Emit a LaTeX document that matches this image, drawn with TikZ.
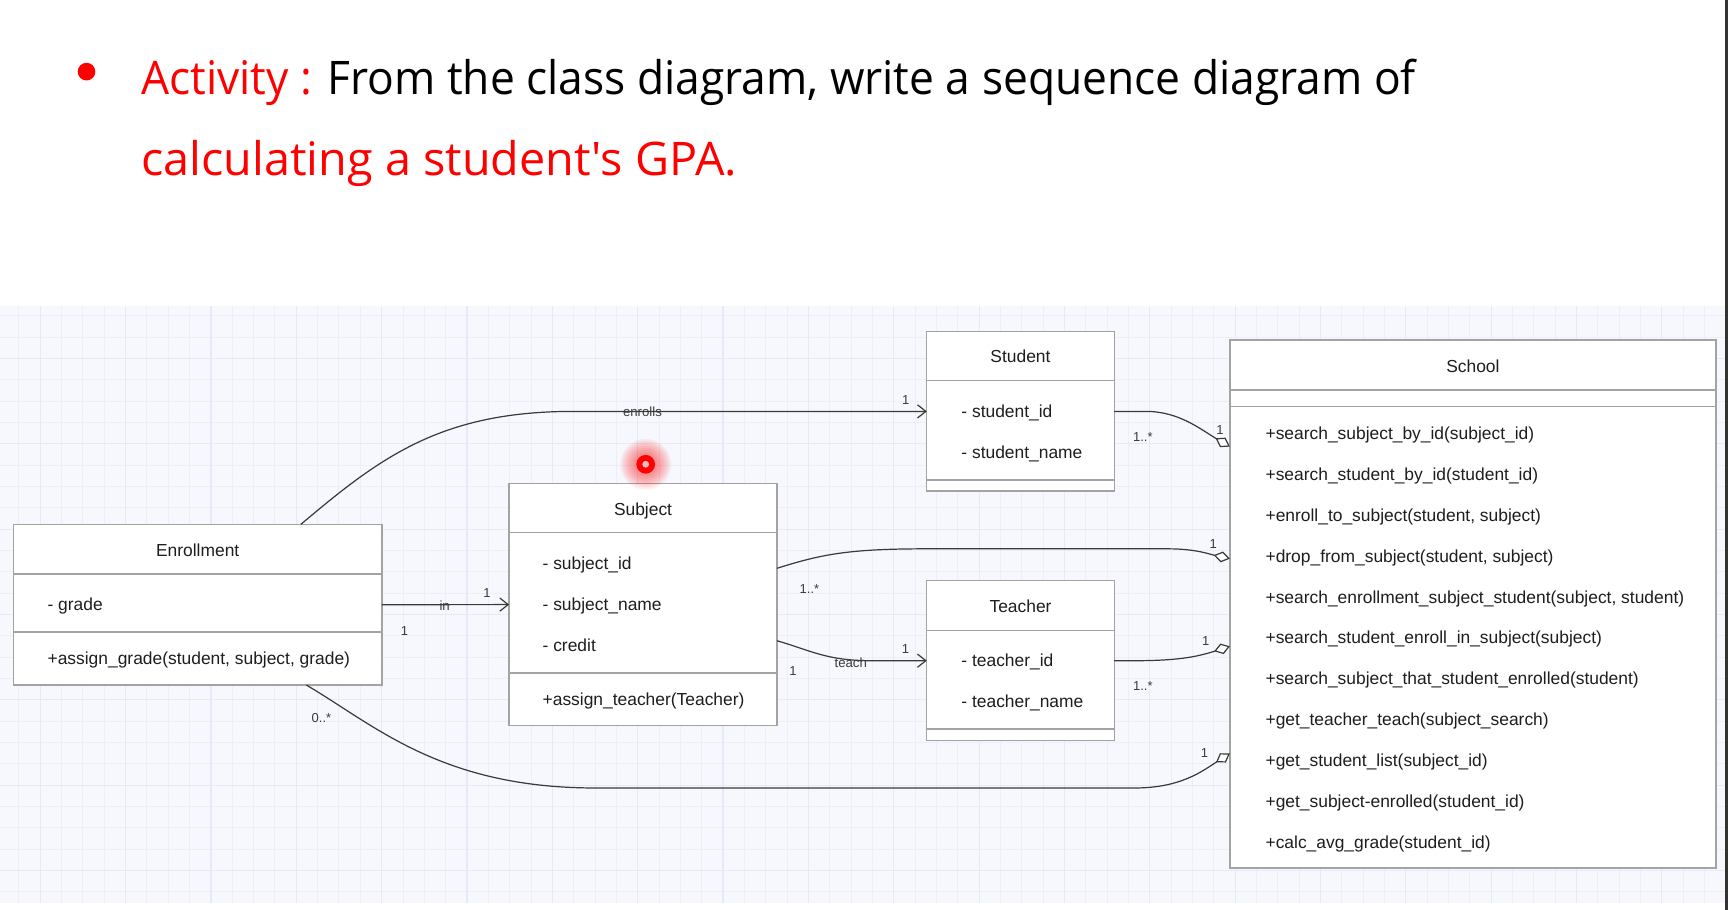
\documentclass[tikz,border=0pt]{standalone}
\usepackage{fontspec}
\setmainfont{Liberation Sans}
\newfontfamily\titlefont{Open Sans}
\usetikzlibrary{arrows.meta,calc}
\definecolor{gridbg}{HTML}{F7F8FD}
\definecolor{gridln}{HTML}{ECEEF8}
\definecolor{gridmj}{HTML}{E6E9F6}
\definecolor{boxln}{HTML}{A3A3A3}
\definecolor{edgeln}{HTML}{3A3A3A}
\definecolor{txt}{HTML}{1E1E1E}
\definecolor{ptrhole}{HTML}{F4B8BE}
\begin{document}
\begin{tikzpicture}[x=0.5pt,y=-0.5pt,
  classbox/.style={draw=boxln,fill=white,line width=0.6pt,inner sep=0pt,outer sep=0pt},
  divln/.style={draw=boxln,line width=0.6pt},
  ctext/.style={inner sep=0pt,text=txt,font=\fontsize{7.9}{9}\selectfont,text height=0.5em,text depth=0pt},
  attr/.style={ctext,anchor=west},
  ctitle/.style={ctext,anchor=center},
  lbl/.style={inner sep=0pt,text=edgeln,font=\fontsize{6}{7}\selectfont,text height=0.5em,text depth=0pt},
  mult/.style={inner sep=0pt,text=edgeln,font=\fontsize{5.9}{6.5}\selectfont,text height=0.5em,text depth=0pt},
  assoc/.style={draw=edgeln,line width=0.55pt,-{Straight Barb[length=3.8pt,width=6pt]}},
  aggr/.style={draw=edgeln,line width=0.55pt,-{Diamond[length=7.5pt,width=5pt,fill=white]}},
  ttl/.style={inner sep=0pt,anchor=base west,font=\titlefont\fontsize{21}{25}\selectfont}
]
\useasboundingbox (0,0) rectangle (1568,825.7);
\fill[white] (0,0) rectangle (1568,825.7);
% grid background
\fill[gridbg] (0,277.4) rectangle (1566,819.6);
\foreach \k in {0,...,80} {\draw[gridln,line width=0.45pt] ({17.2+19.36*\k},277.4) -- ({17.2+19.36*\k},819.6);}
\foreach \k in {0,...,27} {\draw[gridln,line width=0.45pt] (0,{286.5+19.36*\k}) -- (1566,{286.5+19.36*\k});}
\foreach \k in {0,...,20} {\draw[gridmj,line width=0.5pt] ({36.56+77.44*\k},277.4) -- ({36.56+77.44*\k},819.6);}
\foreach \k in {0,...,6} {\draw[gridmj,line width=0.5pt] (0,{325.2+77.44*\k}) -- (1566,{325.2+77.44*\k});}
\fill[black!80] (1565.6,0) rectangle (1568,825.7);

% title
\fill[red] (78.5,65) circle (8);
\node[ttl] (t1) at (128,85.6) {\scalebox{0.958}[1]{\textcolor{red}{Activity :} From the class diagram, write a sequence diagram of}};
\node[ttl,text=red] (t2) at (128,158.8) {\scalebox{1.01}[1]{calculating a student's GPA.}};

% classes
\node[classbox,minimum width=85pt,minimum height=72.3pt] (student) at (926,373.3) {};
\draw[divln] (student.west |- 0,345.5) -- (student.east |- 0,345.5);
\draw[divln] (student.west |- 0,435.6) -- (student.east |- 0,435.6);
\node[ctitle] (studentT) at (926,324) {Student};
\node[attr] (studentA1) at (872,374) {- student\_id};
\node[attr] (studentA2) at (872,411) {- student\_name};

\node[classbox,minimum width=85pt,minimum height=72.5pt] (teacher) at (926,599.5) {};
\draw[divln] (teacher.west |- 0,572.3) -- (teacher.east |- 0,572.3);
\draw[divln] (teacher.west |- 0,661.6) -- (teacher.east |- 0,661.6);
\node[ctitle] (teacherT) at (926,550.5) {Teacher};
\node[attr] (teacherA1) at (872,600) {- teacher\_id};
\node[attr] (teacherA2) at (872,637) {- teacher\_name};

\node[classbox,minimum width=121.5pt,minimum height=110pt] (subject) at (583.5,548.6) {};
\draw[divln] (subject.west |- 0,483.4) -- (subject.east |- 0,483.4);
\draw[divln] (subject.west |- 0,610.8) -- (subject.east |- 0,610.8);
\node[ctitle] (subjectT) at (583.5,463) {Subject};
\node[attr] (subjectA1) at (492,512) {- subject\_id};
\node[attr] (subjectA2) at (492,549) {- subject\_name};
\node[attr] (subjectA3) at (492,586) {- credit};
\node[attr] (subjectM1) at (492,635) {+assign\_teacher(Teacher)};

\node[classbox,minimum width=167.2pt,minimum height=72.9pt] (enrollment) at (179.4,548.7) {};
\draw[divln] (enrollment.west |- 0,520.9) -- (enrollment.east |- 0,520.9);
\draw[divln] (enrollment.west |- 0,573.5) -- (enrollment.east |- 0,573.5);
\node[ctitle] (enrollmentT) at (179.4,499.7) {Enrollment};
\node[attr] (enrollmentA1) at (42.8,549) {- grade};
\node[attr] (enrollmentM1) at (42.8,598) {+assign\_grade(student, subject, grade)};

\node[classbox,minimum width=220.5pt,minimum height=239.55pt] (school) at (1336.5,548.15) {};
\draw[divln] (school.west |- 0,354) -- (school.east |- 0,354);
\draw[divln] (school.west |- 0,368.8) -- (school.east |- 0,368.8);
\node[ctitle] (schoolT) at (1336.5,333) {School};
\foreach \m [count=\i from 0] in {+search\_subject\_by\_id(subject\_id),
  +search\_student\_by\_id(student\_id),
  +enroll\_to\_subject(student{,} subject),
  +drop\_from\_subject(student{,} subject),
  +search\_enrollment\_subject\_student(subject{,} student),
  +search\_student\_enroll\_in\_subject(subject),
  +search\_subject\_that\_student\_enrolled(student),
  +get\_teacher\_teach(subject\_search),
  +get\_student\_list(subject\_id),
  +get\_subject-enrolled(student\_id),
  +calc\_avg\_grade(student\_id)}
  {\node[attr] (schoolM\i) at (1148,{393.8+37.1*\i}) {\m};}

% connectors
\draw[assoc] ($(enrollment.north)+(93.6,0)$) .. controls (345,415) and (400,373.3) .. (520,373.3) -- (student.west);
\node[lbl] (lenrolls) at (583,373.3) {enrolls};
\node[mult] (menr1) at (821.8,362.1) {1};

\draw[assoc] (enrollment.east) -- (subject.west);
\node[lbl] (lin) at (403.5,549.3) {in};
\node[mult] (min1) at (442,537.5) {1};
\node[mult] (min2) at (367,571.7) {1};

\draw[assoc] ($(subject.east)+(0,32.8)$) .. controls (735,590) and (750,599.5) .. (790,599.5) -- (teacher.west);
\node[lbl] (lteach) at (772,600.4) {teach};
\node[mult] (mteach1) at (821.6,588.3) {1};
\node[mult] (mteach2) at (719.5,608) {1};

\draw[aggr] ($(subject.east)+(0,-32.9)$) .. controls (745,503) and (770,498) .. (840,498) -- (1060,498) .. controls (1085,498) and (1098,503) .. ($(school.west)+(0,-41.2)$);
\node[mult] (msub1) at (734.5,533.9) {1..*};
\node[mult] (msub2) at (1101,493) {1};

\draw[aggr] (student.east) -- (1040,373.3) .. controls (1070,373.3) and (1090,390) .. ($(school.west)+(0,-142.9)$);
\node[mult] (mstu1) at (1037,396) {1..*};
\node[mult] (mstu2) at (1107,389) {1};

\draw[aggr] (teacher.east) .. controls (1060,600) and (1080,598) .. ($(school.west)+(0,38.3)$);
\node[mult] (mtea1) at (1037,622) {1..*};
\node[mult] (mtea2) at (1094,581) {1};

\draw[aggr] ($(enrollment.south)+(98.6,0)$) .. controls (340,658) and (400,715) .. (540,715) -- (1030,715) .. controls (1072,715) and (1092,699) .. ($(school.west)+(0,135.5)$);
\node[mult] (menl1) at (291.7,650.3) {0..*};
\node[mult] (menl2) at (1093,682) {1};

% pointer
\foreach \r in {23,21,19,17,15,13,11} {\fill[red,opacity=0.07] (585.9,421.3) circle (\r);}
\fill[red] (585.9,421.3) circle (8.5);
\fill[ptrhole] (585.9,421.3) circle (3.1);
\end{tikzpicture}
\end{document}
